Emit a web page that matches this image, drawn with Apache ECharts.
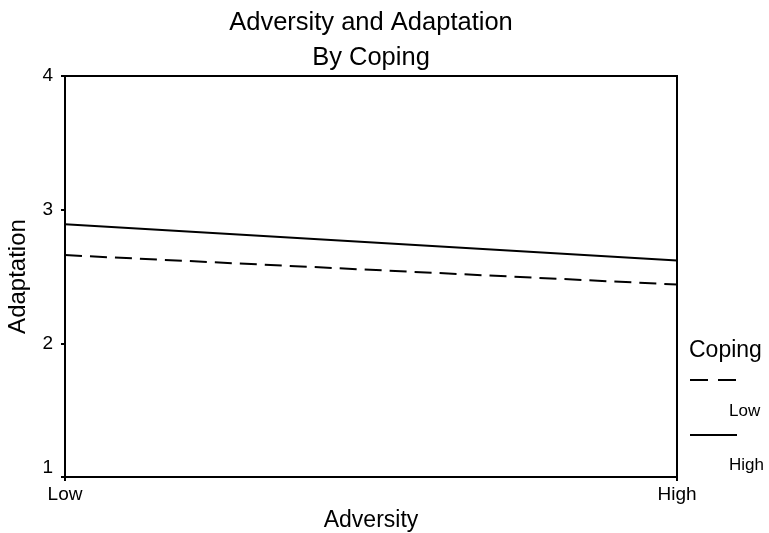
<!DOCTYPE html>
<html><head><meta charset="utf-8">
<script src="https://cdn.jsdelivr.net/npm/echarts@6/dist/echarts.min.js"></script>
<style>html,body{margin:0;padding:0;background:#fff}#c{width:769px;height:533px}</style>
</head><body><div id="c"></div>
<script>
var titleLines = ["Adversity and Adaptation", "By Coping"];
var categories = ["Low", "High"];
var yTicks = [1, 2, 3, 4];
var legendTitle = "Coping";
var seriesNames = ["Low", "High"];
var lowCoping = [2.66, 2.44];
var highCoping = [2.89, 2.62];

var font = "Liberation Sans, Arial, sans-serif";
var chart = echarts.init(document.getElementById('c'), null, {renderer: 'canvas'});
var lineW = 2;
var dash = [17, 8];
chart.setOption({
  animation: false,
  backgroundColor: '#fff',
  title: [
    {text: titleLines[0], left: 366, top: 5, textAlign: 'center', textStyle: {fontFamily: font, fontSize: 25.5, fontWeight: 'normal', color: '#000'}},
    {text: titleLines[1], left: 366, top: 40, textAlign: 'center', textStyle: {fontFamily: font, fontSize: 25.5, fontWeight: 'normal', color: '#000'}}
  ],
  grid: {left: 65, right: 92, top: 76, bottom: 56, show: true, borderColor: '#000', borderWidth: 2, backgroundColor: 'transparent', containLabel: false, outerBoundsMode: 'none'},
  xAxis: {
    type: 'category', data: categories, boundaryGap: false,
    name: 'Adversity', nameLocation: 'middle', nameGap: 31,
    nameTextStyle: {fontFamily: font, fontSize: 23, color: '#000'},
    axisLine: {lineStyle: {color: '#000', width: 2}},
    axisTick: {show: true, alignWithLabel: true, length: 4, lineStyle: {color: '#000', width: 2}},
    axisLabel: {fontFamily: font, fontSize: 19, color: '#000', margin: 8}
  },
  yAxis: {
    type: 'value', min: yTicks[0], max: yTicks[yTicks.length - 1], interval: 1,
    name: 'Adaptation', nameLocation: 'middle', nameGap: 35,
    nameTextStyle: {fontFamily: font, fontSize: 24, color: '#000'},
    axisLine: {show: true, lineStyle: {color: '#000', width: 2}},
    axisTick: {show: true, length: 4, lineStyle: {color: '#000', width: 2}},
    axisLabel: {fontFamily: font, fontSize: 19, color: '#000', margin: 12, verticalAlignMinLabel: 'bottom'},
    splitLine: {show: false}
  },
  series: [
    {name: seriesNames[0], type: 'line', data: lowCoping, symbol: 'none', lineStyle: {color: '#000', width: lineW, type: dash}},
    {name: seriesNames[1], type: 'line', data: highCoping, symbol: 'none', lineStyle: {color: '#000', width: lineW, type: 'solid'}}
  ],
  graphic: [
    {type: 'text', left: 689, top: 339, style: {text: legendTitle, font: '23px ' + font, fill: '#000'}},
    {type: 'line', shape: {x1: 690, y1: 380, x2: 737, y2: 380}, style: {stroke: '#000', lineWidth: lineW, lineDash: [18, 10]}},
    {type: 'text', left: 729, top: 403, style: {text: seriesNames[0], font: '17px ' + font, fill: '#000'}},
    {type: 'line', shape: {x1: 690, y1: 435, x2: 737, y2: 435}, style: {stroke: '#000', lineWidth: lineW}},
    {type: 'text', left: 729, top: 457, style: {text: seriesNames[1], font: '17px ' + font, fill: '#000'}}
  ]
});
</script></body></html>
